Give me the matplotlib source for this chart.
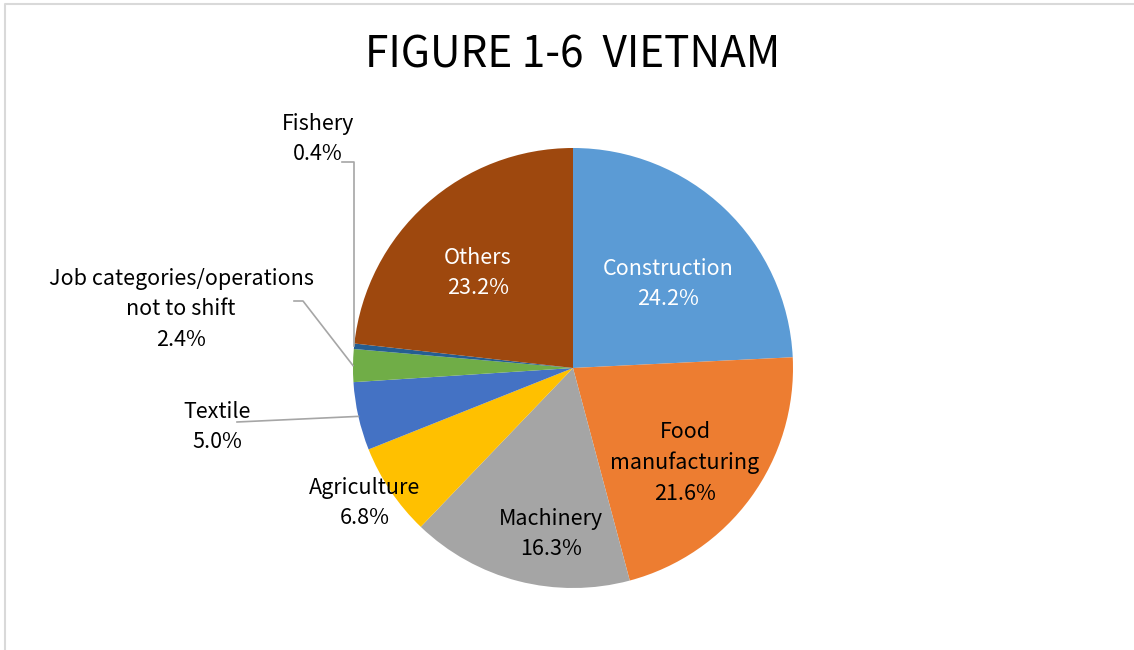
import numpy as np
import matplotlib
matplotlib.use("Agg")
import matplotlib.pyplot as plt

plt.rcParams['font.family'] = ['Noto Sans CJK JP', 'DejaVu Sans']

# Data (percent, clockwise from 12 o'clock)
categories = ['Construction', 'Food\nmanufacturing', 'Machinery', 'Agriculture',
              'Textile', 'Job categories/operations\nnot to shift', 'Fishery', 'Others']
shares = [24.2, 21.6, 16.3, 6.8, 5.0, 2.4, 0.4, 23.2]
colors = ['#5B9BD5', '#ED7D31', '#A5A5A5', '#FFC000',
          '#4472C4', '#70AD47', '#255E91', '#9E480E']

W, H = 1134, 650
fig = plt.figure(figsize=(W / 100, H / 100), dpi=100)
ax = fig.add_axes([0, 0, 1, 1])


def py(y):
    # image pixel row -> data y
    return H - y


cx, cy, R = 573, py(368), 220
wedges, _ = ax.pie(shares, colors=colors, startangle=90, counterclock=False,
                   center=(cx, cy), radius=R, normalize=True,
                   wedgeprops=dict(linewidth=0))
ax.set_xlim(0, W)
ax.set_ylim(0, H)
ax.set_aspect('equal')
ax.axis('off')


def edge_point(w, frac=1.0):
    t = np.deg2rad((w.theta1 + w.theta2) / 2)
    return cx + R * frac * np.cos(t), cy + R * frac * np.sin(t)


def label(i):
    return f"{categories[i]}\n{shares[i]:.1f}%"


fs = 15.5
ls = 1.5
# inside labels
inside = {0: ('white', 668, 284), 1: ('black', 685, 463),
          2: ('black', 551, 534), 7: ('white', 478, 273)}
for i, (c, x, y) in inside.items():
    ax.text(x, py(y), label(i), color=c, fontsize=fs, ha='center', va='center',
            multialignment='center', linespacing=ls)

# outside labels
outside = {3: (365, 503), 4: (217, 427), 5: (181, 309), 6: (318, 139)}
for i, (x, y) in outside.items():
    ax.text(x, py(y), label(i), color='black', fontsize=fs, ha='center', va='center',
            multialignment='center', linespacing=ls)

# leader lines
lc = '#A6A6A6'
ex, ey = edge_point(wedges[4])
ax.plot([237, ex], [py(422), ey], color=lc, lw=1.2)
ex, ey = edge_point(wedges[5])
ax.plot([294, 303, ex], [py(301), py(301), ey], color=lc, lw=1.2)
ex, ey = edge_point(wedges[6])
ax.plot([342, ex, ex], [py(162), py(162), ey], color=lc, lw=1.2)

# title
ax.text(573, py(55), 'FIGURE 1-6  VIETNAM', fontsize=30.5, ha='center', va='center',
        color='black')

# chart-area border (partially visible)
ax.plot([5, 5, W + 5], [-5, py(4), py(4)], color='#D9D9D9', lw=1.5, clip_on=False)

fig.savefig('out.png', dpi=100, facecolor='white')
